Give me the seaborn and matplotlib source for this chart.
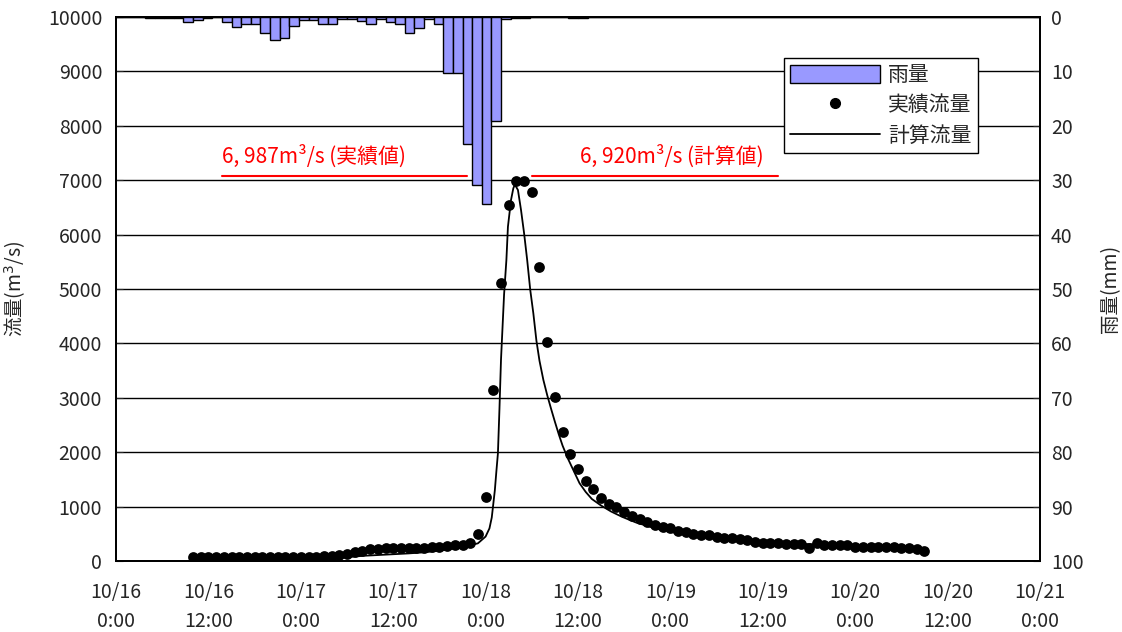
import matplotlib
matplotlib.use('Agg')
import matplotlib.pyplot as plt
import seaborn as sns
import pandas as pd
from matplotlib.patches import Patch
from matplotlib.lines import Line2D

# 時間は10/16 0:00からの経過時間(h)
obs_start = 10
obs_flow = [
    75, 75, 75, 75, 75, 75, 75, 75, 75, 75, 75, 75, 75, 75, 75, 75,
    78, 85, 100, 115, 135, 160, 190, 215, 230, 235, 240, 240, 240, 240,
    245, 250, 255, 270, 290, 300, 330, 495, 1170, 3140, 5110, 6550, 6987, 6990,
    6780, 5410, 4030, 3020, 2370, 1965, 1690, 1465, 1318, 1160, 1048, 985,
    895, 833, 778, 722, 665, 631, 600, 557, 528, 496, 478, 470, 447, 420,
    415, 399, 386, 355, 340, 336, 325, 322, 307, 305, 245, 325, 294, 292,
    292, 290, 265, 263, 263, 262, 262, 255, 235, 233, 230, 190,
]
obs_hours = list(range(obs_start, obs_start + len(obs_flow)))

calc_hours = [29, 30, 32, 34, 36, 38, 40, 42, 43, 44,
              45, 46, 47, 48, 48.5, 48.8, 49.2, 49.4, 49.6, 49.8,
              50.0, 50.2, 50.4, 50.7, 50.9, 51.3, 51.6, 51.8, 52.2, 52.6,
              53.0, 53.4, 53.8, 54.2, 54.6, 55.0, 55.5, 56.0, 56.5, 57.0,
              57.5, 58.0, 58.7, 59.5, 60.2, 61.0, 61.8, 63.0, 64.3, 65.7,
              67.5, 70, 72, 74.3, 78.6, 83, 87.3, 92, 97, 101, 105]
calc_flow = [50, 70, 95, 110, 125, 140, 160, 190, 210, 235,
             263, 290, 325, 450, 600, 800, 1300, 1650, 1980, 2800,
             3700, 4300, 4900, 5533, 6145, 6636, 6851, 6920, 6820, 6452,
             6024, 5533, 4982, 4553, 4050, 3680, 3330, 3050, 2800, 2560,
             2330, 2120, 1880, 1640, 1430, 1270, 1140, 1020, 910, 814,
             710, 601, 535, 478, 417, 355, 325, 300, 275, 260, 240]

# 雨量(mm) 96区間
rain = [0, 0, 0, 0.15, 0.15, 0.15, 0.15, 1.0, 0.5, 0.15,
        0, 0.9, 1.9, 1.2, 1.2, 2.9, 4.2, 3.9, 1.6, 0.6,
        0.6, 1.3, 1.3, 0.4, 0.4, 0.7, 1.3, 0.4, 1.0, 1.3,
        2.9, 2.1, 0.4, 1.3, 10.3, 10.3, 23.3, 30.8, 34.4, 19.2,
        0.3, 0.15, 0.15, 0, 0, 0, 0, 0.15, 0.15] + [0] * 47

xtick_hours = list(range(0, 121, 12))
xtick_labels = ['10/16\n0:00', '10/16\n12:00', '10/17\n0:00', '10/17\n12:00',
                '10/18\n0:00', '10/18\n12:00', '10/19\n0:00', '10/19\n12:00',
                '10/20\n0:00', '10/20\n12:00', '10/21\n0:00']

sns.set_style('white')
plt.rcParams['font.family'] = ['Noto Sans CJK JP', 'DejaVu Sans']
plt.rcParams['font.size'] = 14

df_obs = pd.DataFrame({'hour': obs_hours, 'flow': obs_flow})
df_calc = pd.DataFrame({'hour': calc_hours, 'flow': calc_flow})
df_rain = pd.DataFrame({'idx': range(len(rain)), 'rain': rain})

fig = plt.figure(figsize=(11.22, 6.32), dpi=100)
ax = fig.add_axes([0.1034, 0.1123, 0.8235, 0.8608])

ax.grid(True, axis='y', color='black', linewidth=1)
ax.set_axisbelow(True)
sns.lineplot(data=df_calc, x='hour', y='flow', ax=ax, color='black', linewidth=1.3)
sns.scatterplot(data=df_obs, x='hour', y='flow', ax=ax, color='black', s=60,
                edgecolor='black', linewidth=0, zorder=3)

ax.set_xlim(0, 120)
ax.set_ylim(0, 10000)
ax.set_yticks(range(0, 10001, 1000))
ax.set_xticks(xtick_hours)
ax.set_xticklabels(xtick_labels, linespacing=1.5)
ax.set_xlabel('')
ax.set_ylabel('流量(m$^3$/s)', fontsize=14, labelpad=14)
ax.tick_params(axis='x', direction='in', length=6, pad=15)
ax.tick_params(axis='y', direction='in', length=5, pad=10)

# 注記
ax.plot([13.7, 45.6], [7070, 7070], color='red', linewidth=1.5)
ax.plot([54.0, 86.0], [7070, 7070], color='red', linewidth=1.5)
ax.text(13.7, 7230, '6, 987m³/s (実績値)', color='red', fontsize=15, va='bottom')
ax.text(60.3, 7230, '6, 920m³/s (計算値)', color='red', fontsize=15, va='bottom')

# 雨量(右軸、上から)
axr = ax.twinx()
axr.set_ylim(100, 0)
axr.set_yticks(range(0, 101, 10))
axr.set_ylabel('雨量(mm)', fontsize=14, labelpad=12)
axr.tick_params(axis='y', direction='in', length=5, pad=8)

axb = axr.twiny()
axb.bar(df_rain['idx'] + 0.5, df_rain['rain'], width=1.0, color='#9999FF',
        edgecolor='black', linewidth=1)
axb.set_xlim(0, 96)
axb.set_xticks([])

for a in (ax, axr, axb):
    for sp in a.spines.values():
        sp.set_color('black')
        sp.set_linewidth(1.2)

handles = [Patch(facecolor='#9999FF', edgecolor='black', label='雨量'),
           Line2D([], [], marker='o', color='black', linestyle='none', markersize=7, label='実績流量'),
           Line2D([], [], color='black', linewidth=1.3, label='計算流量')]
leg = axb.legend(handles=handles, loc='upper right', bbox_to_anchor=(0.933, 0.925),
                 frameon=True, fancybox=False, edgecolor='black', framealpha=1,
                 fontsize=15, handlelength=4.3, handleheight=0.9, labelspacing=0.4,
                 borderpad=0.3, handletextpad=0.4, borderaxespad=0)
leg.get_frame().set_linewidth(1.0)

fig.savefig('out.png', dpi=100)
